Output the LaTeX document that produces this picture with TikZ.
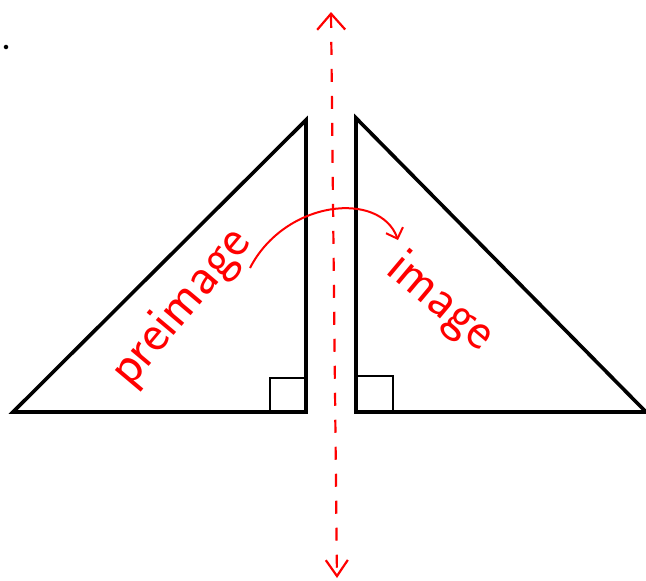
\documentclass[tikz,border=0pt]{standalone}
\usepackage{fontspec}
\usetikzlibrary{arrows.meta,positioning,calc}

\begin{document}
\begin{tikzpicture}[x=1pt,y=-1pt,
        tri/.style={black, line width=3.6pt, line join=miter},
        rightang/.style={black, line width=1.1pt},
        axis/.style={red, line width=2.2pt, dash pattern=on 13pt off 14pt,
          {Straight Barb[length=16pt,width=28pt]}-{Straight Barb[length=16pt,width=22pt]}},
        flip/.style={red, line width=2pt, -{Straight Barb[length=9pt,width=18pt]}},
        word/.style={red, inner sep=0pt, font=\sffamily\fontsize{54}{54}\selectfont}
      ]
        \useasboundingbox (0,0) rectangle (646,581);

        % Punkt
        \node[circle, fill=black, inner sep=1.6pt] (dot) at (6,47) {};

        % Urbild
        \coordinate (preA) at (13,412);
        \coordinate (preB) at (306,412);
        \coordinate (preC) at (306,120);
        \draw[tri] (preA) -- (preB) -- (preC) -- cycle;
        \draw[rightang] (270,412) rectangle (306,378);

        % Bild
        \coordinate (imgA) at (646,412);
        \coordinate (imgB) at (356,412);
        \coordinate (imgC) at (356,118);
        \draw[tri] (imgA) -- (imgB) -- (imgC) -- cycle;
        \draw[rightang] (356,412) rectangle (393,376);

        % Spiegelachse
        \coordinate (axtop) at (331,12);
        \coordinate (axbot) at (337,578);
        \draw[axis] (axtop) -- (axbot);

        % Beschriftung
        \node[word, rotate=50] (pre) at (182,308) {preimage};
        \node[word, rotate=-40] (img) at (440,303) {image};

        % Spiegelung
        \coordinate (flipA) at (250,268);
        \coordinate (flipB) at (398,240);
        \draw[flip] (flipA) .. controls (285,200) and (380,190) .. (flipB);
      \end{tikzpicture}
\end{document}
